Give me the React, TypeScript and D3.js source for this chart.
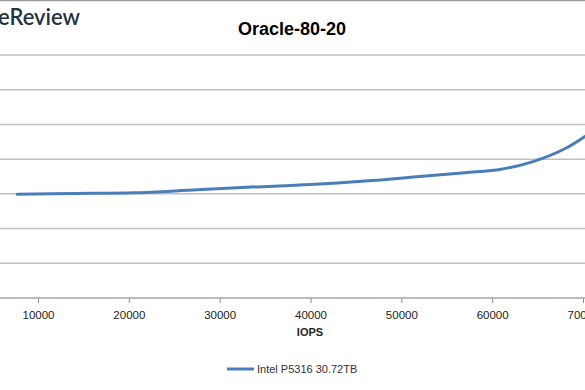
import { useEffect, useRef } from 'react';
import * as d3 from 'd3';

const iops = [7700, 14000, 20500, 27000, 33000, 40000, 46000, 52000, 57000, 61000, 64500, 68000, 70300, 72000];
const latency = [2.99, 3.01, 3.03, 3.11, 3.19, 3.27, 3.37, 3.5, 3.61, 3.71, 3.93, 4.3, 4.67, 5.0];
const xTicks = [10000, 20000, 30000, 40000, 50000, 60000, 70000];
const yTicks = [1, 2, 3, 4, 5, 6, 7];
const seriesName = 'Intel P5316 30.72TB';

export default function App() {
  const ref = useRef<SVGSVGElement>(null);

  useEffect(() => {
    if (!ref.current) return;
    const svg = d3.select(ref.current);
    svg.selectAll('*').remove();

    const width = 585;
    const height = 390;
    const font = "'Liberation Sans', Arial, sans-serif";

    // plot area runs past both edges of the cropped picture
    const x = d3.scaleLinear().domain([10000, 70000]).range([38, 583]);
    const y = d3.scaleLinear().domain([0, 7]).range([298, 55]);

    svg.append('rect').attr('width', width).attr('height', height).attr('fill', '#fff');

    // outer frame line at top
    svg.append('line')
      .attr('x1', 0).attr('x2', width).attr('y1', 0.5).attr('y2', 0.5)
      .attr('stroke', '#9a9a9a').attr('stroke-width', 1.5);

    // logo fragment
    svg.append('text')
      .attr('x', -2).attr('y', 25)
      .attr('font-family', "Lato, 'Open Sans', sans-serif")
      .attr('font-size', 22)
      .attr('font-weight', 600)
      .attr('fill', '#24323f')
      .text('eReview');

    // title
    svg.append('text')
      .attr('x', 292).attr('y', 35)
      .attr('text-anchor', 'middle')
      .attr('font-family', font)
      .attr('font-size', 18)
      .attr('font-weight', 'bold')
      .attr('fill', '#000')
      .text('Oracle-80-20');

    // gridlines
    svg.append('g').selectAll('line')
      .data(yTicks)
      .join('line')
      .attr('x1', 0).attr('x2', width)
      .attr('y1', d => y(d)).attr('y2', d => y(d))
      .attr('stroke', '#c0c0c0').attr('stroke-width', 1.5);

    // x axis
    const xAxis = svg.append('g')
      .attr('transform', `translate(0,${y(0)})`)
      .call(d3.axisBottom(x).tickValues(xTicks).tickSize(5).tickPadding(8).tickFormat(d3.format('d')));
    xAxis.select('.domain').remove();
    xAxis.append('line')
      .attr('x1', 0).attr('x2', width)
      .attr('stroke', '#a6a6a6').attr('stroke-width', 1.5);
    xAxis.selectAll('.tick line').attr('stroke', '#8c8c8c');
    xAxis.selectAll('.tick text')
      .attr('font-family', font)
      .attr('font-size', 11.5)
      .attr('fill', '#222');

    // axis title
    svg.append('text')
      .attr('x', 310).attr('y', 336)
      .attr('text-anchor', 'middle')
      .attr('font-family', font)
      .attr('font-size', 11)
      .attr('font-weight', 'bold')
      .attr('fill', '#222')
      .text('IOPS');

    // series
    const line = d3.line<number>()
      .x((_, i) => x(iops[i]))
      .y(d => y(d))
      .curve(d3.curveCatmullRom.alpha(0.5));

    svg.append('path')
      .datum(latency)
      .attr('d', line)
      .attr('fill', 'none')
      .attr('stroke', '#4a7ebb')
      .attr('stroke-width', 3)
      .attr('stroke-linecap', 'round');

    // legend
    const lg = svg.append('g').attr('transform', 'translate(227,369)');
    lg.append('line')
      .attr('x1', 0).attr('x2', 27).attr('y1', 0).attr('y2', 0)
      .attr('stroke', '#4a7ebb').attr('stroke-width', 3);
    lg.append('text')
      .attr('x', 30).attr('y', 4)
      .attr('font-family', font)
      .attr('font-size', 11)
      .attr('fill', '#333')
      .text(seriesName);
  }, []);

  return (
    <svg ref={ref} width={585} height={390}
      style={{ position: 'absolute', left: 0, top: 0, display: 'block' }} />
  );
}
